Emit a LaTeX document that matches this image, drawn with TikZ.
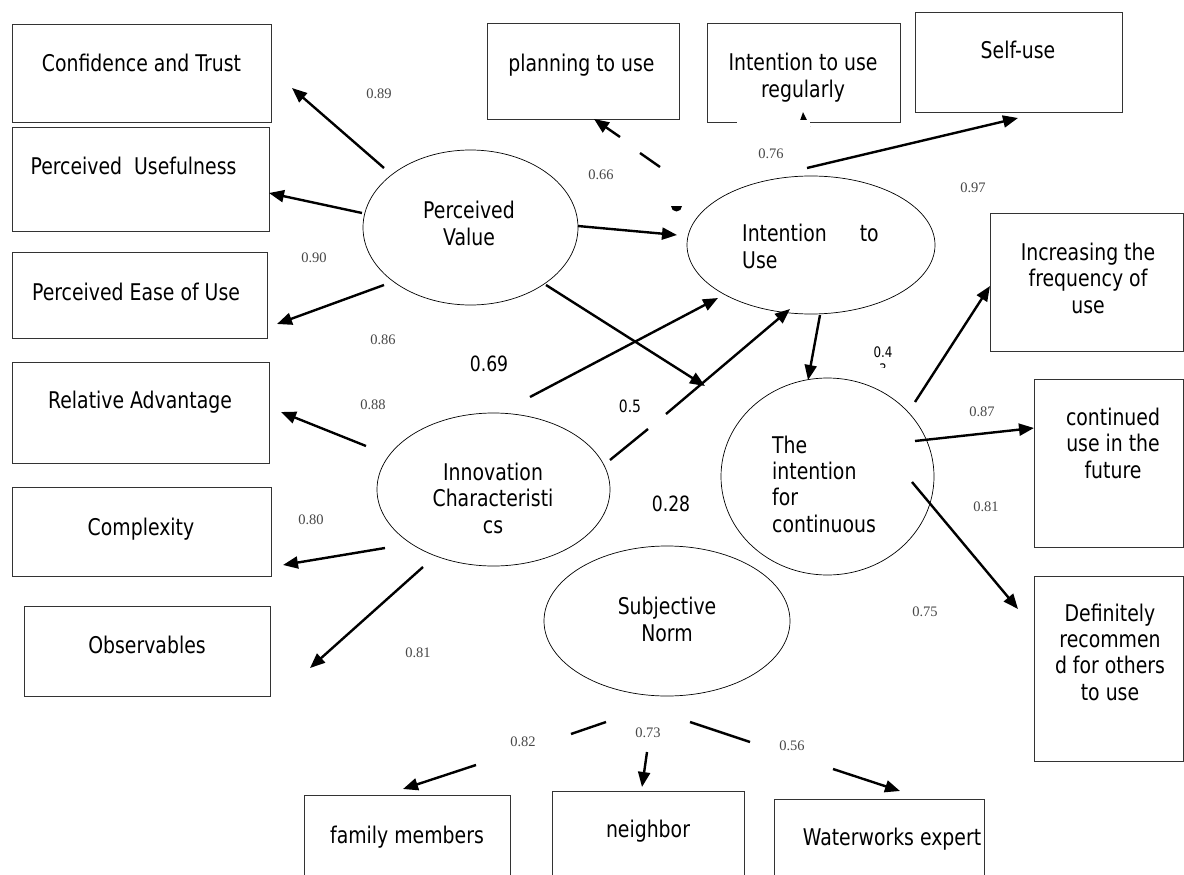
\documentclass[tikz,border=0pt]{standalone}
\usepackage{fontspec}
\setmainfont{DejaVu Sans}[FakeStretch=0.82]
\newfontfamily\numfont{Liberation Serif}
\usetikzlibrary{arrows.meta,shapes.geometric}
\begin{document}
\begin{tikzpicture}[x=1pt,y=-1pt,
  box/.style={draw=black!80, line width=0.9pt, inner sep=0pt, anchor=north west},
  ell/.style={draw, ellipse, line width=0.7pt, inner sep=0pt},
  txt/.style={font=\fontsize{23}{26.2}\selectfont, align=center, inner sep=0pt, anchor=base},
  num/.style={font=\numfont\fontsize{14.5}{16}\selectfont, text=black!72, inner sep=0pt},
  big/.style={font=\fontsize{21}{22}\selectfont, inner sep=0pt, anchor=base},
  arr/.style={line width=2.4pt, -{Triangle[length=15pt,width=12pt]}},
  seg/.style={line width=2.4pt}]
\useasboundingbox (0,0) rectangle (1184,875);

% ---------- boxes ----------
\node[box, minimum width=259, minimum height=98] (ct) at (12,24) {};
\node[box, minimum width=257, minimum height=104] (pu) at (12,127) {};
\node[box, minimum width=255, minimum height=86] (pe) at (12,252) {};
\node[box, minimum width=257, minimum height=101] (ra) at (12,362) {};
\node[box, minimum width=259, minimum height=89] (cx) at (12,487) {};
\node[box, minimum width=246, minimum height=90] (ob) at (24,606) {};
\node[box, minimum width=192, minimum height=96] (pl) at (487,23) {};
\node[box, minimum width=193, minimum height=99] (ir) at (707,23) {};
\node[box, minimum width=207, minimum height=100] (su) at (915,12) {};
\node[box, minimum width=193, minimum height=138] (inc) at (990,213) {};
\node[box, minimum width=149, minimum height=168] (cu) at (1034,379) {};
\node[box, minimum width=149, minimum height=185] (dr) at (1034,576) {};
\node[box, minimum width=206, minimum height=90] (fm) at (304,795) {};
\node[box, minimum width=192, minimum height=94] (nb) at (552,791) {};
\node[box, minimum width=210, minimum height=86] (we) at (774,799) {};

% ---------- box texts (base = last line's baseline) ----------
\node[txt] (t-ct) at (141.5,72) {Confidence and Trust};
\node[txt] (t-pu) at (133.5,174) {Perceived\hspace{12pt}Usefulness};
\node[txt] (t-pe) at (136,300) {Perceived Ease of Use};
\node[txt] (t-ra) at (140,408) {Relative Advantage};
\node[txt] (t-cx) at (141,535) {Complexity};
\node[txt] (t-ob) at (147,653) {Observables};
\node[txt] (t-pl) at (581.5,71) {planning to use};
\node[txt] (t-ir) at (803,97) {Intention to use\\regularly};
\node[txt] (t-su) at (1018,59) {Self-use};
\node[txt] (t-inc) at (1088,313) {Increasing the\\frequency of\\use};
\node[txt] (t-cu) at (1113,478) {continued\\use in the\\future};
\node[txt] (t-dr) at (1110,700) {Definitely\\recommen\\d for others\\to use};
\node[txt] (t-fm) at (407,843) {family members};
\node[txt] (t-nb) at (648,837) {neighbor};
\node[txt] (t-we) at (892,845) {Waterworks expert};

% ---------- ellipses ----------
\node[ell, minimum width=215, minimum height=155] (pv) at (470.5,227.5) {};
\node[ell, minimum width=248, minimum height=138] (itu) at (811,245) {};
\node[ell, minimum width=213, minimum height=197] (tic) at (827.5,476.5) {};
\node[ell, minimum width=233, minimum height=153] (ic) at (493.5,489.5) {};
\node[ell, minimum width=246, minimum height=150] (sn) at (667,621) {};

\node[txt] (t-pv) at (469,245) {Perceived\\Value};
\node[txt, align=left, anchor=base west] (t-itu) at (742,268) {Intention\hspace{33pt}to\\Use};
\node[txt, align=left, anchor=base west] (t-tic) at (772,532) {The\\intention\\for\\continuous};
\node[txt] (t-ic) at (493,533) {Innovation\\Characteristi\\cs};
\node[txt] (t-sn) at (667,641) {Subjective\\Norm};

% ---------- connector end points ----------
\coordinate (pv-a) at (384,168);  \coordinate (ct-e) at (292,88);
\coordinate (pv-b) at (362,213);  \coordinate (pu-e) at (269,193);
\coordinate (pv-c) at (384,285);  \coordinate (pe-e) at (277,324);
\coordinate (pv-d) at (578,226);  \coordinate (itu-a) at (677,235);
\coordinate (pv-e) at (546,285);  \coordinate (tic-a) at (705,386);
\coordinate (ic-a) at (530,397);  \coordinate (itu-b) at (718,298);
\coordinate (ic-b) at (610,460);  \coordinate (ic-b1) at (648,429);
\coordinate (ic-b2) at (666,414); \coordinate (itu-c) at (790,309);
\coordinate (itu-d) at (820,315); \coordinate (tic-b) at (808,380);
\coordinate (itu-e) at (807,168); \coordinate (su-e) at (1018,118);
\coordinate (itu-f) at (806,160); \coordinate (ir-e) at (803,112);
\coordinate (pl-s1) at (620,137); \coordinate (pl-e) at (594,119);
\coordinate (pl-s2) at (640,153); \coordinate (pl-s3) at (660,167);
\coordinate (tic-c) at (915,402); \coordinate (inc-e) at (990,286);
\coordinate (tic-d) at (915,441); \coordinate (cu-e) at (1034,428);
\coordinate (tic-e) at (912,482); \coordinate (dr-e) at (1018,609);
\coordinate (ic-c) at (366,446);  \coordinate (ra-e) at (281,412);
\coordinate (ic-d) at (385,548);  \coordinate (cx-e) at (283,565);
\coordinate (ic-e) at (423,567);  \coordinate (ob-e) at (310,668);
\coordinate (sn-a) at (606,722);  \coordinate (sn-a1) at (571,734);
\coordinate (fm-s) at (476,765);  \coordinate (fm-e) at (403,789);
\coordinate (nb-s) at (647,752);  \coordinate (nb-e) at (642,787);
\coordinate (sn-c) at (690,722);  \coordinate (sn-c1) at (750,742);
\coordinate (we-s) at (833,769);  \coordinate (we-e) at (900,791);

% ---------- connectors ----------
\draw[arr] (pv-a) -- (ct-e);
\draw[arr] (pv-b) -- (pu-e);
\draw[arr] (pv-c) -- (pe-e);
\draw[arr] (pv-d) -- (itu-a);
\draw[arr] (pv-e) -- (tic-a);
\draw[arr] (ic-a) -- (itu-b);
\draw[seg] (ic-b) -- (ic-b1);
\draw[arr] (ic-b2) -- (itu-c);
\draw[arr] (itu-d) -- (tic-b);
% partly hidden arrow to "Intention to use regularly"
\draw[arr] (itu-f) -- (ir-e);
\fill[white] (737,119.6) rectangle (810,172);
\draw[arr] (itu-e) -- (su-e);
% broken arrow to "planning to use"
\draw[arr] (pl-s1) -- (pl-e);
\draw[seg] (pl-s2) -- (pl-s3);
\fill (671,206) arc (180:0:5.5) -- cycle;
\draw[arr] (tic-c) -- (inc-e);
\draw[arr] (tic-d) -- (cu-e);
\draw[arr] (tic-e) -- (dr-e);
\draw[arr] (ic-c) -- (ra-e);
\draw[arr] (ic-d) -- (cx-e);
\draw[arr] (ic-e) -- (ob-e);
\draw[seg] (sn-a) -- (sn-a1);
\draw[arr] (fm-s) -- (fm-e);
\draw[arr] (nb-s) -- (nb-e);
\draw[seg] (sn-c) -- (sn-c1);
\draw[arr] (we-s) -- (we-e);

% ---------- loadings ----------
\node[num] (l1) at (379,94) {0.89};
\node[num] (l2) at (314,258) {0.90};
\node[num] (l3) at (383,340) {0.86};
\node[num] (l4) at (373,405) {0.88};
\node[num] (l5) at (311,520) {0.80};
\node[num] (l6) at (418,653) {0.81};
\node[num] (l7) at (601,175) {0.66};
\node[num] (l8) at (771,154) {0.76};
\node[num] (l9) at (973,188) {0.97};
\node[num] (l10) at (982,412) {0.87};
\node[num] (l11) at (986,507) {0.81};
\node[num] (l12) at (925,612) {0.75};
\node[num] (l13) at (523,742) {0.82};
\node[num] (l14) at (648,733) {0.73};
\node[num] (l15) at (792,746) {0.56};

\node[big] (p1) at (489,371) {0.69};
\node[big, font=\fontsize{17}{18}\selectfont] (p2) at (630,412) {0.5};
\node[big] (p3) at (671,511) {0.28};
\node[big, font=\fontsize{14.5}{15}\selectfont] (p4) at (883,357) {0.4};
\begin{scope}
  \clip (870,359) rectangle (900,367);
  \node[big, font=\fontsize{14.5}{15}\selectfont] (p5) at (883,374) {3};
\end{scope}
\end{tikzpicture}
\end{document}
